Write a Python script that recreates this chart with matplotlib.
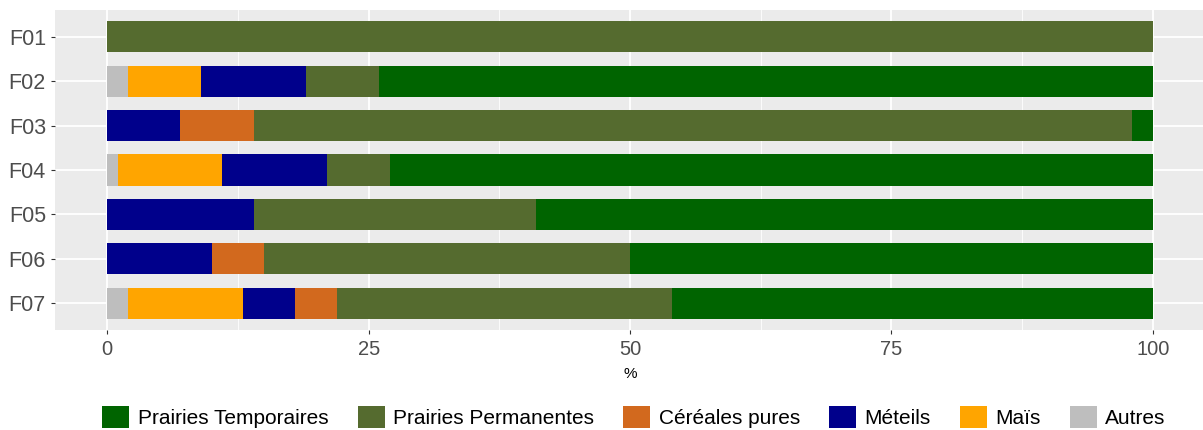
import matplotlib
matplotlib.use("Agg")
import matplotlib.pyplot as plt
from matplotlib.patches import Patch
import numpy as np

plt.rcParams["font.family"] = ["Liberation Sans", "DejaVu Sans"]

fermes = ["F01", "F02", "F03", "F04", "F05", "F06", "F07"]

# parts de SAU par culture (%)
autres = [0, 2, 0, 1, 0, 0, 2]
mais = [0, 7, 0, 10, 0, 0, 11]
meteils = [0, 10, 7, 10, 14, 10, 5]
cereales = [0, 0, 7, 0, 0, 5, 4]
prairies_perm = [100, 7, 84, 6, 27, 35, 32]
prairies_temp = [0, 74, 2, 73, 59, 50, 46]

# ordre d'empilement de gauche à droite
cultures = [
    ("Autres", autres, "#BEBEBE"),
    ("Maïs", mais, "#FFA500"),
    ("Méteils", meteils, "#00008B"),
    ("Céréales pures", cereales, "#D2691E"),
    ("Prairies Permanentes", prairies_perm, "#556B2F"),
    ("Prairies Temporaires", prairies_temp, "#006400"),
]

fig = plt.figure(figsize=(12.03, 4.30), dpi=100)
ax = fig.add_axes([55 / 1203, 1 - 330 / 430, 1150 / 1203, 320 / 430])
ax.set_facecolor("#EBEBEB")

y = np.arange(len(fermes))
left = np.zeros(len(fermes))
for nom, vals, couleur in cultures:
    vals = np.array(vals, dtype=float)
    ax.barh(y, vals, left=left, height=0.7, color=couleur, label=nom, zorder=3)
    left += vals

ax.set_xlim(-5, 105)
ax.set_ylim(len(fermes) - 0.4, -0.6)
ax.set_yticks(y)
ax.set_yticklabels(fermes)
ax.set_xticks([0, 25, 50, 75, 100])
ax.set_xticks([12.5, 37.5, 62.5, 87.5], minor=True)
ax.grid(which="major", color="white", linewidth=1.3, zorder=0)
ax.grid(which="minor", axis="x", color="white", linewidth=0.6, zorder=0)
ax.set_axisbelow(True)
for s in ax.spines.values():
    s.set_visible(False)
ax.tick_params(axis="both", which="major", colors="#333333", labelcolor="#4D4D4D",
               length=3, width=0.8, labelsize=15.5)
ax.tick_params(axis="x", pad=4, labelsize=14.5)
ax.tick_params(which="minor", length=0)
ax.set_xlabel("%", fontsize=11, labelpad=6)

# légende dans l'ordre inverse de l'empilement
handles = [Patch(facecolor=c, edgecolor="none", label=n) for n, _, c in reversed(cultures)]
fig.legend(handles=handles, loc="center", bbox_to_anchor=(0.527, 0.03), ncol=6,
           frameon=False, fontsize=15, handlelength=1.3, handleheight=1.3,
           handletextpad=0.4, columnspacing=1.4)

fig.savefig("out.png", dpi=100)
